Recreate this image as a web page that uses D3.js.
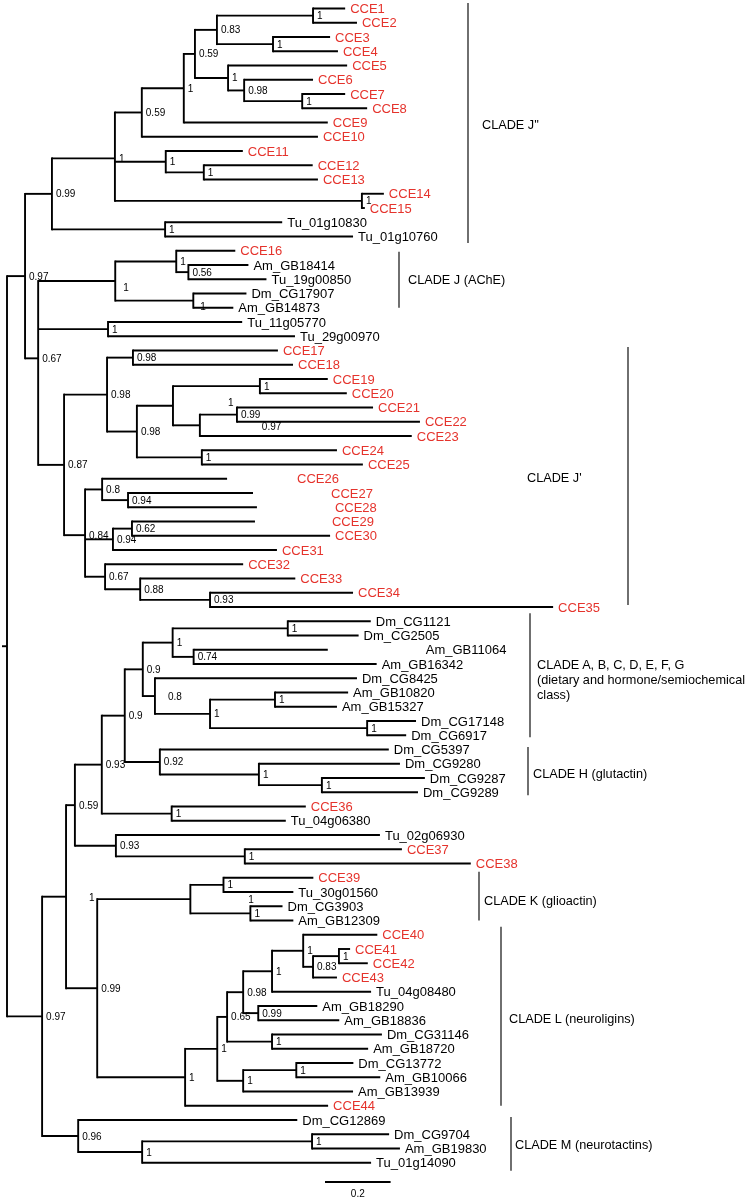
<!DOCTYPE html>
<html><head><meta charset="utf-8">
<script src="https://cdn.jsdelivr.net/npm/d3@7"></script>
<style>
body{margin:0;background:#fff}
svg{display:block;will-change:transform}
text{font-family:"Liberation Sans",Arial,Helvetica,sans-serif}
</style>
</head><body><svg id="chart" width="746" height="1199"></svg>
<script>
// ---------------- DATA ----------------
// Subtrees in Newick notation: leaf:branchLength, internal nodes labelled by posterior support
const cladeJ2 = "(((((((CCE1:0.098,CCE2:0.134)1:0.293,(CCE3:0.174,CCE4:0.198)1:0.171)0.83:0.067,(CCE5:0.363,(CCE6:0.210,(CCE7:0.131,CCE8:0.198)1:0.177)0.98:0.049)1:0.101)0.59:0.034,CCE9:0.439)1:0.128,CCE10:0.537)0.59:0.082,(CCE11:0.235,(CCE12:0.332,CCE13:0.348)1:0.116)1:0.155,(CCE14:0.067,CCE15:0.009)1:0.753)1:0.192,(Tu_01g10830:0.357,Tu_01g10760:0.573)1:0.345)0.99";
const cladeAChE = "((CCE16:0.180,(Am_GB18414:0.183,Tu_19g00850:0.238)0.56:0.037)1:0.186,(Dm_CG17907:0.162,Am_GB14873:0.122)1:0.238)1";
const pairTu2 = "(Tu_11g05770:0.409,Tu_29g00970:0.570)1";
const cladeJ1top = "((CCE17:0.442,CCE18:0.488)0.98:0.079,(((CCE19:0.207,CCE20:0.265)1:0.265,((CCE21:0.415,CCE22:0.558)0.99:0.113,CCE23:0.646)0.97:0.082)1:0.110,(CCE24:0.412,CCE25:0.491)1:0.198)0.98:0.091)0.98";
const cladeJ1bottom = "((CCE26:0.381,(CCE27:0.381,CCE28:0.393)0.94:0.079)0.8:0.052,((CCE29:0.375,CCE30:0.604)0.62:0.058,CCE31:0.500)0.94:0.085,(CCE32:0.421,(CCE33:0.473,(CCE34:0.436,CCE35:1.046)0.93:0.213)0.88:0.107)0.67:0.061)0.84";
const cladeAG = "(((Dm_CG1121:0.253,Dm_CG2505:0.216)1:0.351,(Am_GB11064:0.409,Am_GB16342:0.558)0.74:0.064)1:0.091,(Dm_CG8425:0.616,((Am_GB10820:0.223,Am_GB15327:0.189)1:0.198,(Dm_CG17148:0.149,Dm_CG6917:0.119)1:0.479)1:0.168)0.8:0.037)0.9";
const cladeH = "(Dm_CG5397:0.698,(Dm_CG9280:0.430,(Dm_CG9287:0.314,Dm_CG9289:0.293)1:0.192)1:0.302)0.92";
const pairCCE36 = "(CCE36:0.409,Tu_04g06380:0.348)1";
const groupCCE37 = "(Tu_02g06930:0.805,(CCE37:0.479,CCE38:0.689)1:0.393)0.93";
const cladeK = "((CCE39:0.274,Tu_30g01560:0.213)1:0.101,(Dm_CG3903:0.098,Am_GB12309:0.131)1:0.183)1";
const cladeL = "((((((CCE40:0.226,((CCE41:0.034,CCE42:0.088)1:0.079,CCE43:0.073)0.83:0.030)1:0.095,Tu_04g08480:0.302)1:0.088,(Am_GB18290:0.180,Am_GB18836:0.247)0.99:0.046)0.98:0.049,(Dm_CG31146:0.335,Am_GB18720:0.293)1:0.137)0.65:0.030,((Dm_CG13772:0.174,Am_GB10066:0.256)1:0.162,Am_GB13939:0.335)1:0.079)1:0.098,CCE44:0.436)1";
const cladeM = "(Dm_CG12869:0.668,((Dm_CG9704:0.235,Am_GB19830:0.268)1:0.518,Tu_01g14090:0.698)1:0.195)0.96";

const cladeNames = ["CLADE J''", "CLADE J (AChE)", "CLADE J'", "CLADE A, B, C, D, E, F, G|(dietary and hormone/semiochemical|class)", "CLADE H (glutactin)", "CLADE K (glioactin)", "CLADE L (neuroligins)", "CLADE M (neurotactins)"];
const cladeFirstLeaf = ["CCE1", "CCE16", "CCE17", "Dm_CG1121", "Dm_CG5397", "CCE39", "CCE40", "Dm_CG12869"];
const cladeLastLeaf = ["Tu_01g10760", "Am_GB14873", "CCE35", "Dm_CG6917", "Dm_CG9289", "Am_GB12309", "CCE44", "Tu_01g14090"];
const scaleBarValue = 0.2;

// ---------------- ASSEMBLY ----------------
const upper = `(${cladeJ2}:0.082,(${cladeAChE}:0.235,${pairTu2}:0.213,(${cladeJ1top}:0.131,${cladeJ1bottom}:0.064)0.87:0.079)0.67:0.040)0.97`;
const lower = `(((((${cladeAG}:0.055,${cladeH}:0.107)0.9:0.070,${pairCCE36}:0.213)0.93:0.082,${groupCCE37}:0.125)0.59:0.027,(${cladeK}:0.284,${cladeL}:0.268)0.99:0.095)1:0.073,${cladeM}:0.110)0.97`;
const newick = `(${upper}:0.055,${lower}:0.107);`;

function parseNewick(s){
  let i = 0;
  function node(){
    const n = {children: []};
    if (s[i] === '('){
      i++;
      while (i < s.length){
        n.children.push(node());
        if (s[i] === ','){ i++; continue; }
        if (s[i] === ')'){ i++; }
        break;
      }
    }
    let name = '';
    while (i < s.length && !':,();'.includes(s[i])) name += s[i++];
    n.name = name;
    n.length = 0;
    if (s[i] === ':'){
      i++; let l = '';
      while (i < s.length && !',();'.includes(s[i])) l += s[i++];
      n.length = +l;
    }
    return n;
  }
  return node();
}

// ---------------- LAYOUT ----------------
const svg = d3.select("#chart");
const root = d3.hierarchy(parseNewick(newick), d => d.children.length ? d.children : null);
root.eachBefore(d => { d.dist = d.parent ? d.parent.dist + d.data.length : 0; });
const leaves = root.leaves();
const yLeaf = d3.scaleLinear().domain([0, leaves.length - 1]).range([8.5, 1162.75]);
leaves.forEach((d, i) => { d.y = yLeaf(i); });
root.eachAfter(d => { if (d.children) d.y = d3.mean(d.children, c => c.y); });
const x = d3.scaleLinear().domain([0, 1]).range([7, 335]);
const leafByName = new Map(leaves.map(d => [d.data.name, d]));

const RED = "#e5332c";
const SW = 1.9;
const g = svg.append("g");

// horizontal branches
g.selectAll("line.h").data(root.descendants().filter(d => d.parent)).join("line")
  .attr("x1", d => x(d.parent.dist)).attr("x2", d => x(d.dist))
  .attr("y1", d => d.y).attr("y2", d => d.y)
  .attr("stroke", "#000").attr("stroke-width", SW);
// vertical connectors
g.selectAll("line.v").data(root.descendants().filter(d => d.children)).join("line")
  .attr("x1", d => x(d.dist)).attr("x2", d => x(d.dist))
  .attr("y1", d => d.children[0].y - SW / 2)
  .attr("y2", d => d.children[d.children.length - 1].y + SW / 2)
  .attr("stroke", "#000").attr("stroke-width", SW);
// root stem
g.append("line").attr("x1", x(0) - 5).attr("x2", x(0)).attr("y1", root.y).attr("y2", root.y)
  .attr("stroke", "#000").attr("stroke-width", SW);

// leaf labels (a few are set off to the right of their branch tips as in the original)
const leafLabelShift = {CCE26: 65, CCE27: 73, CCE28: 73, CCE29: 72, Am_GB11064: 93};
g.selectAll("text.leaf").data(leaves).join("text")
  .attr("x", d => x(d.dist) + 5 + (leafLabelShift[d.data.name] || 0))
  .attr("y", d => d.y).attr("dy", "0.35em")
  .attr("font-size", 13)
  .attr("fill", d => d.data.name.startsWith("CCE") ? RED : "#000")
  .text(d => d.data.name);

// support values
const supportShift = {
  "CCE19|CCE23": [51, -3], "CCE21|CCE23": [58, 1],
  "Dm_CG1121|CCE44": [19, 1], "CCE39|Am_GB12309": [54, 0],
  "CCE16|Am_GB14873": [4, 6], "Dm_CG17907|Am_GB14873": [3, 6],
  "Dm_CG8425|Dm_CG6917": [9, 0]
};
const keyOf = d => d.leaves()[0].data.name + "|" + d.leaves().slice(-1)[0].data.name;
const internals = root.descendants().filter(d => d.children && d.data.name);
g.selectAll("text.sup").data(internals).join("text")
  .attr("x", d => x(d.dist) + 4 + (supportShift[keyOf(d)] ? supportShift[keyOf(d)][0] : 0))
  .attr("y", d => d.y + (supportShift[keyOf(d)] ? supportShift[keyOf(d)][1] : 0))
  .attr("dy", "0.35em").attr("font-size", 10).attr("fill", "#000")
  .text(d => d.data.name);

// clade bars and labels
const cladeBarX = [468, 399, 628, 530, 528, 479, 501, 511];
const cladeLabelDx = [14, 9, -101, 7, 5, 5, 8, 4];
const cladePadTop = [5.5, -1, 3.5, 8, 2.5, 6, 8, 3];
const cladePadBottom = [6.5, 0, -2, 2, 3, 0, 0, 8];
const cladeLabelDy = [2, 0, 2, 4, 2, 4, 2, 1];
cladeNames.forEach((name, i) => {
  const y1 = leafByName.get(cladeFirstLeaf[i]).y - cladePadTop[i];
  const y2 = leafByName.get(cladeLastLeaf[i]).y + cladePadBottom[i];
  g.append("line").attr("x1", cladeBarX[i]).attr("x2", cladeBarX[i])
    .attr("y1", y1).attr("y2", y2).attr("stroke", "#333").attr("stroke-width", 1.4);
  const lines = name.split("|");
  const cy = (y1 + y2) / 2 + cladeLabelDy[i];
  lines.forEach((t, j) => {
    g.append("text").attr("x", cladeBarX[i] + cladeLabelDx[i])
      .attr("y", cy + (j - (lines.length - 1) / 2) * 15).attr("dy", "0.35em")
      .attr("font-size", 12.7).attr("fill", "#000").text(t);
  });
});

// scale bar
const sbX = 325, sbY = 1182;
g.append("line").attr("x1", sbX).attr("x2", sbX + x(scaleBarValue) - x(0))
  .attr("y1", sbY).attr("y2", sbY).attr("stroke", "#000").attr("stroke-width", SW);
g.append("text").attr("x", sbX + (x(scaleBarValue) - x(0)) / 2).attr("y", sbY + 11)
  .attr("dy", "0.35em").attr("text-anchor", "middle").attr("font-size", 10)
  .text(scaleBarValue);
</script>
</body></html>
